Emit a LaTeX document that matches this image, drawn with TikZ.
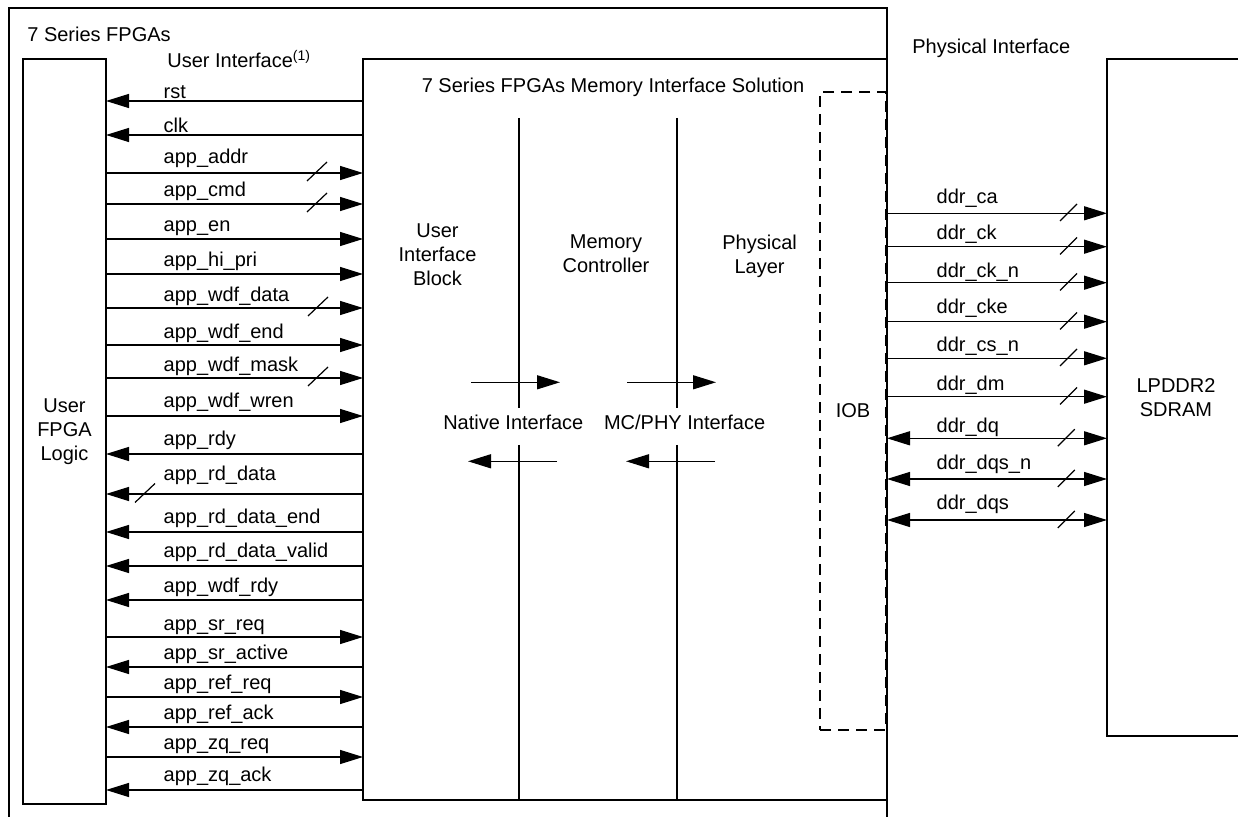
\documentclass[tikz,border=0pt]{standalone}
\usepackage{fontspec}
\setmainfont{Liberation Sans}
\usetikzlibrary{arrows.meta}
\begin{document}
\begin{tikzpicture}[x=0.5pt,y=-0.5pt,
  line width=0.65pt,
  font=\fontsize{10pt}{12pt}\selectfont,
  >={Triangle[length=11.5pt,width=7pt]},
  sigl/.style={<-},
  sigr/.style={->},
  sigb/.style={<->},
  lbl/.style={anchor=base west, inner sep=0pt},
  txt/.style={inner sep=0pt, align=center},
  box/.style={draw, inner sep=0pt, outer sep=0pt, align=center},
  iobbox/.style={draw, dash pattern=on 5.5pt off 3.5pt, inner sep=0pt, outer sep=0pt},
  divider/.style={line width=0.65pt},
  slash/.style={line width=0.6pt},
  ]
\useasboundingbox (0,0) rectangle (1238,817);

% outer 7 Series FPGAs frame (open at the bottom)
\draw (9,817) -- (9,8) -- (887,8) -- (887,817);
\node[lbl] (fpga) at (26.7,42) {7 Series FPGAs};
\node[lbl] (ui) at (166.7,67.7) {User Interface\textsuperscript{(1)}};
\node[lbl] (phyif) at (911.7,53.5) {Physical Interface};

% User FPGA Logic
\node[box, minimum width=41.5pt, minimum height=372.5pt] (ufl) at (64.5,431.5) {User\\FPGA\\Logic};

% Memory interface solution
\node[box, minimum width=262pt, minimum height=370.5pt] (mis) at (625,429.5) {};
\node[txt, anchor=base] (mist) at (613,92.5) {7 Series FPGAs Memory Interface Solution};

% IOB dashed box
\node[iobbox, minimum width=33pt, minimum height=319pt] (iob) at (853,411) {};
\node[txt, anchor=base] (iobt) at (853,418) {IOB};

% LPDDR2 SDRAM box (open at the right)
\coordinate (sd) at (1107,59);
\draw (1238,59) -- (sd) -- (1107,736) -- (1238,736);
\node[txt] (sdt) at (1176,397.5) {LPDDR2\\SDRAM};

% block labels
\node[txt] (uib) at (437.5,254.5) {User\\Interface\\Block};
\node[txt] (mc) at (606,254) {Memory\\Controller};
\node[txt] (pl) at (759.6,256) {Physical\\Layer};
\node[txt, anchor=base] (ni) at (513.3,430) {Native Interface};
\node[txt, anchor=base] (mcphy) at (684.6,430) {MC/PHY Interface};

% dividers
\coordinate (d1t) at (519,118);
\coordinate (d1m) at (519,408);
\coordinate (d1n) at (519,445);
\coordinate (d1b) at (519,800);
\coordinate (d2t) at (677,118);
\coordinate (d2m) at (677,408);
\coordinate (d2n) at (677,445);
\coordinate (d2b) at (677,800);
\draw[divider] (d1t) -- (d1m) (d1n) -- (d1b);
\draw[divider] (d2t) -- (d2m) (d2n) -- (d2b);

% interface arrows
\coordinate (a1s) at (471,382.3); \coordinate (a1e) at (560,382.3);
\coordinate (a2s) at (627,382.3); \coordinate (a2e) at (716,382.3);
\coordinate (b1s) at (557,461.3); \coordinate (b1e) at (468,461.3);
\coordinate (b2s) at (715,461.3); \coordinate (b2e) at (626,461.3);
\draw[->] (a1s) -- (a1e);
\draw[->] (a2s) -- (a2e);
\draw[->] (b1s) -- (b1e);
\draw[->] (b2s) -- (b2e);

% user interface signals
\foreach \y/\b/\d/\t [count=\i] in {
  101/99/l/rst,
  135/132.5/l/clk,
  173/163.5/r/app\_addr,
  204/197/r/app\_cmd,
  239/232/r/app\_en,
  274/267/r/app\_hi\_pri,
  308/302/r/app\_wdf\_data,
  345/338.5/r/app\_wdf\_end,
  378/371.5/r/app\_wdf\_mask,
  416/407.5/r/app\_wdf\_wren,
  454/446/l/app\_rdy,
  494/481/l/app\_rd\_data,
  532/523.5/l/app\_rd\_data\_end,
  566/557.7/l/app\_rd\_data\_valid,
  600/592.7/l/app\_wdf\_rdy,
  637/631/r/app\_sr\_req,
  667/659.5/l/app\_sr\_active,
  697/690/r/app\_ref\_req,
  727/720/l/app\_ref\_ack,
  757/750/r/app\_zq\_req,
  790/781.7/l/app\_zq\_ack}{
  \node[lbl] (sl\i) at (163,\b) {\t};
  \draw[sig\d] (ufl.east |- 0,\y) -- (mis.west |- 0,\y);
}

% bus slashes (user side)
\foreach \cx/\cy in {317/171.5, 317/202.5, 318/306.5, 318/376.5, 145/493}{
  \draw[slash] (\cx-10,\cy+9.5) -- (\cx+10,\cy-9.5);
}

% physical interface signals
\foreach \y/\b/\d/\t [count=\i] in {
  213.3/204/r/ddr\_ca,
  246.7/239.5/r/ddr\_ck,
  282.7/277.5/r/ddr\_ck\_n,
  321.7/313.3/r/ddr\_cke,
  358.3/351.5/r/ddr\_cs\_n,
  396.7/391/r/ddr\_dm,
  438.3/432.5/b/ddr\_dq,
  479/469.5/b/ddr\_dqs\_n,
  520/509.5/b/ddr\_dqs}{
  \node[lbl] (sr\i) at (936,\b) {\t};
  \draw[sig\d] (mis.east |- 0,\y) -- (sd |- 0,\y);
}

% bus slashes (physical side)
\foreach \cx/\cy in {1068.5/212.5, 1068.5/245.9, 1068.5/281.9, 1068.5/320.9, 1068.5/357.5, 1068.5/395.9, 1066.3/437.7, 1066.3/478.4, 1066.3/519.4}{
  \draw[slash] (\cx-8.5,\cy+8.5) -- (\cx+8.5,\cy-8.5);
}
\end{tikzpicture}
\end{document}
